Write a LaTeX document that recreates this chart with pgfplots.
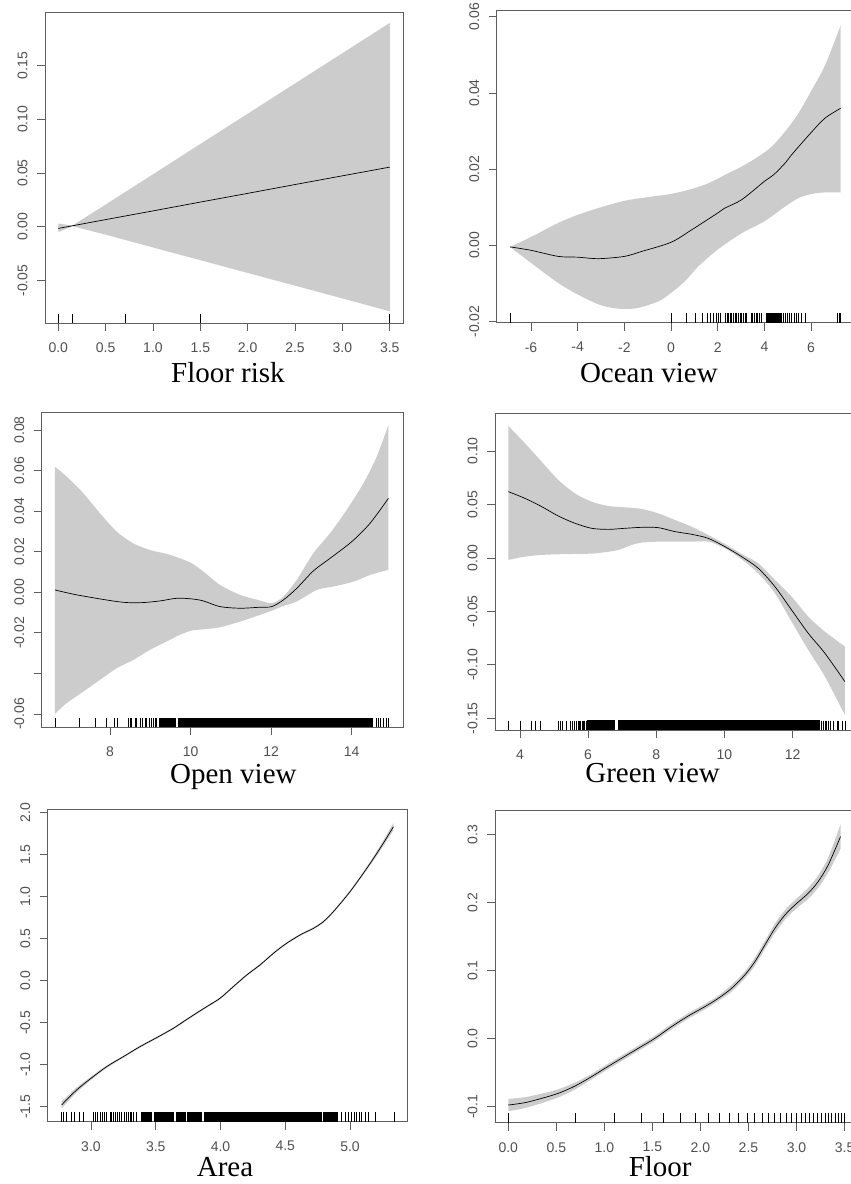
\documentclass[border=0pt]{standalone}
\usepackage{fontspec}
\usepackage{pgfplots}
\pgfplotsset{compat=1.18}
\usepgfplotslibrary{fillbetween}
\newfontfamily\arial{Liberation Sans}
\newfontfamily\tnr{Liberation Serif}
\definecolor{axgray}{RGB}{95,95,95}
\definecolor{lblgray}{RGB}{80,80,80}
\definecolor{bandgray}{RGB}{204,204,204}
\pgfplotsset{
 rplot/.style={scale only axis, axis line style={draw=axgray, line width=0.8pt},
   tick style={draw=axgray, line width=0.8pt}, tick align=outside, major tick length=8pt,
   xtick pos=bottom, ytick pos=left,
   tick label style={font=\arial\fontsize{14}{14}\selectfont, text=lblgray},
   yticklabel style={rotate=90, anchor=south},
   xticklabel shift=8pt, yticklabel shift=6pt,
   xlabel style={font=\tnr\fontsize{29}{29}\selectfont, anchor=base},
   scaled ticks=false, anchor=south west},
 band/.style={fill=bandgray, draw=none},
 bnd/.style={draw=none, smooth, tension=0.5},
 curve/.style={black, line width=0.7pt, smooth, tension=0.5},
 rug/.style={only marks, mark=|, mark size=4.65pt, mark options={yshift=4.65pt, line width=0.6pt, black}},
 rugblock/.style={fill=black, draw=none},
}
\begin{document}
\begin{tikzpicture}
% ---------------- Panel 1: Floor risk
\begin{axis}[rplot, at={(45pt,861pt)}, width=358pt, height=311pt,
  xmin=-0.14, xmax=3.64, ymin=-0.0894, ymax=0.1997,
  xtick={0,0.5,1,1.5,2,2.5,3,3.5}, xticklabels={0.0,0.5,1.0,1.5,2.0,2.5,3.0,3.5},
  ytick={-0.05,0,0.05,0.10,0.15}, yticklabels={-0.05,0.00,0.05,0.10,0.15},
  xlabel={Floor risk}, xlabel style={at={(axis description cs:0.511,0)}, yshift=-60pt}]
\addplot[name path=U, draw=none] coordinates {(0,0.003) (0.15,0.0012) (0.5,0.0207) (1,0.0488) (1.5,0.077) (2,0.1051) (2.5,0.1333) (3,0.1614) (3.5,0.1895)};
\addplot[name path=L, draw=none] coordinates {(0,-0.005) (0.15,0.0006) (0.5,-0.0073) (1,-0.0192) (1.5,-0.031) (2,-0.0429) (2.5,-0.0547) (3,-0.0666) (3.5,-0.0785)};
\addplot[band] fill between[of=U and L];
\addplot[black, line width=0.7pt] coordinates {(0,-0.0015) (0.5,0.0067) (1,0.0148) (1.5,0.023) (2,0.0311) (2.5,0.0393) (3,0.0474) (3.5,0.0555)};
\addplot[rug] coordinates {(0,-0.0894) (0.148,-0.0894) (0.705,-0.0894) (1.5,-0.0894) (3.5,-0.0894)};
\end{axis}
% ---------------- Panel 2: Ocean view
\begin{axis}[rplot, at={(496.7pt,861.3pt)}, width=358pt, height=312pt,
  xmin=-7.47, xmax=7.87, ymin=-0.0203, ymax=0.0616,
  xtick={-6,-4,-2,0,2,4,6}, xticklabels={-6,-4,-2,0,2,4,6},
  ytick={-0.02,0,0.02,0.04,0.06}, yticklabels={-0.02,0.00,0.02,0.04,0.06},
  xlabel={Ocean view}, xlabel style={at={(axis description cs:0.425,0)}, yshift=-60pt}]
\addplot[name path=U, bnd] coordinates {(-6.9,-0.0004) (-6,0.0022) (-4.83,0.0059) (-4,0.008) (-3.11,0.0098) (-2,0.0117) (-0.83,0.0128) (0,0.0135) (0.89,0.0148) (1.6,0.0163) (2.31,0.0185) (3.03,0.0207) (3.74,0.0233) (4.31,0.0259) (4.89,0.0299) (5.46,0.0347) (6.03,0.0408) (6.6,0.0473) (7.27,0.0578)};
\addplot[name path=L, bnd] coordinates {(-6.9,-0.0004) (-6,-0.0046) (-4.83,-0.0099) (-4,-0.0129) (-3.11,-0.0155) (-2.54,-0.0164) (-2,-0.0167) (-1.4,-0.0164) (-0.54,-0.0147) (0,-0.0125) (0.6,-0.0094) (1.17,-0.0055) (2,-0.0011) (3.03,0.0032) (4,0.0063) (4.89,0.0102) (5.46,0.0124) (6.03,0.0135) (6.6,0.0139) (7.27,0.0139)};
\addplot[band] fill between[of=U and L];
\addplot[curve] coordinates {(-6.9,-0.0004) (-6,-0.0013) (-4.83,-0.0029) (-4,-0.0031) (-3.11,-0.0035) (-2,-0.0029) (-1.26,-0.0016) (0,0.0008) (0.89,0.0041) (2,0.0085) (2.31,0.0098) (3.03,0.012) (4,0.0168) (4.39,0.0185) (4.89,0.0216) (5.17,0.0238) (6,0.0296) (6.6,0.0334) (7.27,0.036)};
\addplot[rugblock] coordinates {(4.17,-0.0203) (4.70,-0.0203) (4.70,-0.01786) (4.17,-0.01786)} -- cycle;
\addplot[rug] coordinates {(-6.9,-0.0203) (0.03,-0.0203) (0.67,-0.0203) (1.06,-0.0203) (1.34,-0.0203) (1.56,-0.0203) (1.7,-0.0203) (1.81,-0.0203) (1.93,-0.0203) (2.03,-0.0203) (2.1,-0.0203) (2.31,-0.0203) (2.39,-0.0203) (2.46,-0.0203) (2.53,-0.0203) (2.6,-0.0203) (2.67,-0.0203) (2.74,-0.0203) (2.81,-0.0203) (2.89,-0.0203) (2.96,-0.0203) (3.03,-0.0203) (3.1,-0.0203) (3.17,-0.0203) (3.24,-0.0203) (3.43,-0.0203) (3.5,-0.0203) (3.57,-0.0203) (3.64,-0.0203) (3.71,-0.0203) (3.79,-0.0203) (3.86,-0.0203) (4.1,-0.0203) (4.14,-0.0203) (4.74,-0.0203) (4.81,-0.0203) (4.89,-0.0203) (4.99,-0.0203) (5.07,-0.0203) (5.17,-0.0203) (5.27,-0.0203) (5.36,-0.0203) (5.46,-0.0203) (5.56,-0.0203) (5.74,-0.0203) (7.14,-0.0203) (7.2,-0.0203) (7.27,-0.0203)};
\end{axis}
% ---------------- Panel 3: Open view
\begin{axis}[rplot, at={(41.7pt,456.7pt)}, width=361.6pt, height=314.6pt,
  xmin=6.305, xmax=15.28, ymin=-0.0666, ymax=0.0885,
  xtick={8,10,12,14}, xticklabels={8,10,12,14},
  ytick={-0.06,-0.04,-0.02,0,0.02,0.04,0.06,0.08}, yticklabels={-0.06,,-0.02,0.00,0.02,0.04,0.06,0.08},
  xlabel={Open view}, xlabel style={at={(axis description cs:0.53,0)}, yshift=-56pt}]
\addplot[name path=U, bnd] coordinates {(6.634,0.0619) (6.924,0.057) (7.338,0.0488) (7.752,0.0389) (8.166,0.0299) (8.579,0.0241) (8.993,0.0208) (9.407,0.0189) (9.738,0.0167) (10.028,0.0143) (10.317,0.0102) (10.731,0.0036) (11.228,-0.0013) (11.724,-0.0041) (12.014,-0.0054) (12.304,-0.0022) (12.635,0.0061) (13.048,0.0192) (13.462,0.0291) (13.876,0.0406) (14.29,0.0537) (14.621,0.0669) (14.911,0.0825)};
\addplot[name path=L, bnd] coordinates {(6.634,-0.06) (6.924,-0.0547) (7.338,-0.049) (7.752,-0.0432) (8.166,-0.0375) (8.579,-0.0334) (8.993,-0.0284) (9.407,-0.0243) (9.738,-0.021) (10.028,-0.0189) (10.317,-0.0183) (10.731,-0.0173) (11.228,-0.0145) (11.724,-0.0112) (12.014,-0.0091) (12.304,-0.0068) (12.635,-0.0046) (13.131,0.0011) (13.545,0.0028) (14.042,0.0052) (14.455,0.0085) (14.911,0.011)};
\addplot[band] fill between[of=U and L];
\addplot[curve] coordinates {(6.634,0.0011) (7.172,-0.0013) (8,-0.0041) (8.414,-0.0051) (8.828,-0.0051) (9.241,-0.0043) (9.655,-0.003) (10.028,-0.0033) (10.317,-0.0043) (10.731,-0.0071) (11.228,-0.0079) (11.724,-0.0074) (12.014,-0.0071) (12.304,-0.0038) (12.635,0.0019) (13.048,0.0105) (13.462,0.0167) (14,0.0249) (14.455,0.034) (14.911,0.0463)};
\addplot[rugblock] coordinates {(9.22,-0.0666) (9.64,-0.0666) (9.64,-0.06201) (9.22,-0.06201)} -- cycle;
\addplot[rugblock] coordinates {(9.68,-0.0666) (14.54,-0.0666) (14.54,-0.06201) (9.68,-0.06201)} -- cycle;
\addplot[rug] coordinates {(6.634,-0.0666) (7.24,-0.0666) (7.64,-0.0666) (7.92,-0.0666) (8.11,-0.0666) (8.17,-0.0666) (8.46,-0.0666) (8.5,-0.0666) (8.54,-0.0666) (8.62,-0.0666) (8.66,-0.0666) (8.74,-0.0666) (8.81,-0.0666) (8.87,-0.0666) (8.91,-0.0666) (8.97,-0.0666) (9.03,-0.0666) (9.08,-0.0666) (9.12,-0.0666) (9.16,-0.0666) (14.6,-0.0666) (14.66,-0.0666) (14.72,-0.0666) (14.79,-0.0666) (14.85,-0.0666) (14.91,-0.0666)};
\end{axis}
% ---------------- Panel 4: Green view
\begin{axis}[rplot, at={(495pt,454pt)}, width=364pt, height=316.7pt,
  xmin=3.267, xmax=13.95, ymin=-0.161, ymax=0.1353,
  xtick={4,6,8,10,12}, xticklabels={4,6,8,10,12},
  ytick={-0.15,-0.10,-0.05,0,0.05,0.10}, yticklabels={-0.15,-0.10,-0.05,0.00,0.05,0.10},
  xlabel={Green view}, xlabel style={at={(axis description cs:0.433,0)}, yshift=-53pt}]
\addplot[name path=U, bnd] coordinates {(3.658,0.1234) (4.147,0.1072) (4.636,0.09) (5.125,0.0729) (5.614,0.0604) (6.103,0.0526) (6.592,0.0486) (7.081,0.0473) (7.57,0.0458) (8.059,0.0417) (8.548,0.0355) (9.037,0.0292) (9.526,0.0214) (10.015,0.013) (10.504,0.0037) (10.993,-0.0051) (11.482,-0.0206) (11.971,-0.0362) (12.46,-0.0549) (12.949,-0.069) (13.535,-0.0829)};
\addplot[name path=L, bnd] coordinates {(3.658,-0.0019) (4.147,0.0012) (4.636,0.0028) (5.125,0.0034) (5.614,0.0037) (6.103,0.004) (6.396,0.0049) (6.885,0.0074) (7.276,0.0121) (7.57,0.0143) (8.059,0.0152) (8.548,0.0152) (9.037,0.0152) (9.526,0.0152) (10.015,0.009) (10.504,-0.0013) (10.993,-0.0144) (11.482,-0.0331) (11.971,-0.0596) (12.46,-0.0861) (12.949,-0.111) (13.535,-0.1469)};
\addplot[band] fill between[of=U and L];
\addplot[curve] coordinates {(3.658,0.062) (4.147,0.0557) (4.636,0.048) (5.125,0.0392) (5.614,0.0324) (6.103,0.0277) (6.592,0.0267) (7.081,0.0277) (7.57,0.0286) (8.059,0.0283) (8.548,0.0246) (9.037,0.0221) (9.526,0.0183) (10.015,0.0105) (10.504,0.0012) (10.993,-0.0097) (11.482,-0.0269) (11.971,-0.0487) (12.46,-0.0705) (12.949,-0.0892) (13.535,-0.1157)};
\addplot[rugblock] coordinates {(5.98,-0.161) (6.80,-0.161) (6.80,-0.1521) (5.98,-0.1521)} -- cycle;
\addplot[rugblock] coordinates {(6.87,-0.161) (12.80,-0.161) (12.80,-0.1521) (6.87,-0.1521)} -- cycle;
\addplot[rug] coordinates {(3.66,-0.161) (4.0,-0.161) (4.34,-0.161) (4.44,-0.161) (4.61,-0.161) (5.11,-0.161) (5.17,-0.161) (5.24,-0.161) (5.37,-0.161) (5.47,-0.161) (5.55,-0.161) (5.6,-0.161) (5.65,-0.161) (5.7,-0.161) (5.74,-0.161) (5.78,-0.161) (5.82,-0.161) (5.86,-0.161) (5.9,-0.161) (5.94,-0.161) (12.85,-0.161) (12.9,-0.161) (12.95,-0.161) (13.0,-0.161) (13.05,-0.161) (13.1,-0.161) (13.2,-0.161) (13.3,-0.161) (13.35,-0.161) (13.45,-0.161) (13.55,-0.161)};
\end{axis}
% ---------------- Panel 5: Area
\begin{axis}[rplot, at={(47.7pt,62.3pt)}, width=359.6pt, height=312.4pt,
  xmin=2.666, xmax=5.442, ymin=-1.679, ymax=2.04,
  xtick={3,3.5,4,4.5,5}, xticklabels={3.0,3.5,4.0,4.5,5.0},
  ytick={-1.5,-1,-0.5,0,0.5,1,1.5,2}, yticklabels={-1.5,-1.0,-0.5,0.0,0.5,1.0,1.5,2.0},
  xlabel={Area}, xlabel style={at={(axis description cs:0.493,0)}, yshift=-55pt}]
\addplot[name path=U, bnd] coordinates {(2.773,-1.44) (2.889,-1.272) (3.0,-1.143) (3.121,-1.009) (3.25,-0.893) (3.378,-0.774) (3.497,-0.675) (3.636,-0.555) (3.764,-0.425) (3.893,-0.298) (3.996,-0.198) (4.099,-0.059) (4.202,0.079) (4.305,0.199) (4.408,0.337) (4.503,0.449) (4.614,0.556) (4.717,0.635) (4.794,0.714) (4.871,0.833) (5.0,1.075) (5.129,1.357) (5.232,1.605) (5.335,1.878)};
\addplot[name path=L, bnd] coordinates {(2.773,-1.52) (2.889,-1.332) (3.0,-1.183) (3.121,-1.039) (3.25,-0.917) (3.378,-0.798) (3.497,-0.699) (3.636,-0.579) (3.764,-0.449) (3.893,-0.322) (3.996,-0.222) (4.099,-0.083) (4.202,0.055) (4.305,0.175) (4.408,0.313) (4.503,0.425) (4.614,0.532) (4.717,0.611) (4.794,0.69) (4.871,0.809) (5.0,1.045) (5.129,1.317) (5.232,1.545) (5.335,1.788)};
\addplot[band] fill between[of=U and L];
\addplot[curve] coordinates {(2.773,-1.48) (2.889,-1.302) (3.0,-1.163) (3.121,-1.024) (3.25,-0.905) (3.378,-0.786) (3.497,-0.687) (3.636,-0.567) (3.764,-0.437) (3.893,-0.31) (3.996,-0.21) (4.099,-0.071) (4.202,0.067) (4.305,0.187) (4.408,0.325) (4.503,0.437) (4.614,0.544) (4.717,0.623) (4.794,0.702) (4.871,0.821) (5.0,1.06) (5.129,1.337) (5.232,1.575) (5.335,1.833)};
\addplot[rugblock] coordinates {(3.386,-1.679) (3.475,-1.679) (3.475,-1.568) (3.386,-1.568)} -- cycle;
\addplot[rugblock] coordinates {(3.487,-1.679) (3.643,-1.679) (3.643,-1.568) (3.487,-1.568)} -- cycle;
\addplot[rugblock] coordinates {(3.655,-1.679) (3.733,-1.679) (3.733,-1.568) (3.655,-1.568)} -- cycle;
\addplot[rugblock] coordinates {(3.745,-1.679) (3.86,-1.679) (3.86,-1.568) (3.745,-1.568)} -- cycle;
\addplot[rugblock] coordinates {(3.874,-1.679) (4.785,-1.679) (4.785,-1.568) (3.874,-1.568)} -- cycle;
\addplot[rugblock] coordinates {(4.795,-1.679) (4.91,-1.679) (4.91,-1.568) (4.795,-1.568)} -- cycle;
\addplot[rug] coordinates {(2.773,-1.679) (2.786,-1.679) (2.812,-1.679) (2.846,-1.679) (2.869,-1.679) (2.91,-1.679) (2.941,-1.679) (3.018,-1.679) (3.031,-1.679) (3.049,-1.679) (3.069,-1.679) (3.088,-1.679) (3.103,-1.679) (3.121,-1.679) (3.147,-1.679) (3.16,-1.679) (3.172,-1.679) (3.19,-1.679) (3.203,-1.679) (3.219,-1.679) (3.237,-1.679) (3.255,-1.679) (3.275,-1.679) (3.288,-1.679) (3.301,-1.679) (3.314,-1.679) (3.327,-1.679) (3.353,-1.679) (4.936,-1.679) (4.961,-1.679) (4.987,-1.679) (5.013,-1.679) (5.031,-1.679) (5.051,-1.679) (5.072,-1.679) (5.09,-1.679) (5.116,-1.679) (5.142,-1.679) (5.193,-1.679) (5.342,-1.679)};
\end{axis}
% ---------------- Panel 6: Floor
\begin{axis}[rplot, at={(495pt,61.3pt)}, width=363pt, height=312.7pt,
  xmin=-0.138, xmax=3.64, ymin=-0.1235, ymax=0.3357,
  xtick={0,0.5,1,1.5,2,2.5,3,3.5}, xticklabels={0.0,0.5,1.0,1.5,2.0,2.5,3.0,3.5},
  ytick={-0.1,0,0.1,0.2,0.3}, yticklabels={-0.1,0.0,0.1,0.2,0.3},
  xlabel={Floor}, xlabel style={at={(axis description cs:0.455,0)}, yshift=-54pt}]
\addplot[name path=U, bnd] coordinates {(0,-0.0886) (0.173,-0.0861) (0.347,-0.0808) (0.52,-0.0744) (0.694,-0.0647) (0.867,-0.0519) (1.006,-0.0397) (1.179,-0.025) (1.353,-0.0103) (1.526,0.0044) (1.699,0.0215) (1.873,0.0372) (2.046,0.0509) (2.185,0.0631) (2.324,0.0788) (2.462,0.0984) (2.567,0.119) (2.671,0.1435) (2.775,0.1689) (2.879,0.1885) (2.983,0.2032) (3.121,0.2213) (3.225,0.2395) (3.33,0.266) (3.458,0.3146)};
\addplot[name path=L, bnd] coordinates {(0,-0.1066) (0.173,-0.1021) (0.347,-0.0948) (0.52,-0.0864) (0.694,-0.0747) (0.867,-0.0599) (1.006,-0.0477) (1.179,-0.033) (1.353,-0.0183) (1.526,-0.0036) (1.699,0.0135) (1.873,0.0292) (2.046,0.0429) (2.185,0.0551) (2.324,0.0688) (2.462,0.0884) (2.567,0.107) (2.671,0.1315) (2.775,0.1549) (2.879,0.1745) (2.983,0.1892) (3.121,0.2053) (3.225,0.2215) (3.33,0.244) (3.458,0.2786)};
\addplot[band] fill between[of=U and L];
\addplot[curve] coordinates {(0,-0.0976) (0.173,-0.0941) (0.347,-0.0878) (0.52,-0.0804) (0.694,-0.0697) (0.867,-0.0559) (1.006,-0.0437) (1.179,-0.029) (1.353,-0.0143) (1.526,0.0004) (1.699,0.0175) (1.873,0.0332) (2.046,0.0469) (2.185,0.0591) (2.324,0.0738) (2.462,0.0934) (2.567,0.113) (2.671,0.1375) (2.775,0.1619) (2.879,0.1815) (2.983,0.1962) (3.121,0.2133) (3.225,0.2305) (3.33,0.255) (3.458,0.2966)};
\addplot[rug] coordinates {(0,-0.1235) (0.693,-0.1235) (1.099,-0.1235) (1.386,-0.1235) (1.609,-0.1235) (1.792,-0.1235) (1.946,-0.1235) (2.079,-0.1235) (2.197,-0.1235) (2.303,-0.1235) (2.398,-0.1235) (2.485,-0.1235) (2.565,-0.1235) (2.639,-0.1235) (2.708,-0.1235) (2.773,-0.1235) (2.833,-0.1235) (2.890,-0.1235) (2.944,-0.1235) (2.996,-0.1235) (3.045,-0.1235) (3.091,-0.1235) (3.135,-0.1235) (3.178,-0.1235) (3.219,-0.1235) (3.258,-0.1235) (3.296,-0.1235) (3.332,-0.1235) (3.367,-0.1235) (3.401,-0.1235) (3.434,-0.1235) (3.466,-0.1235) (3.497,-0.1235)};
\end{axis}
\pgfresetboundingbox
\path (0,0) rectangle (851pt,1184pt);
\end{tikzpicture}
\end{document}
